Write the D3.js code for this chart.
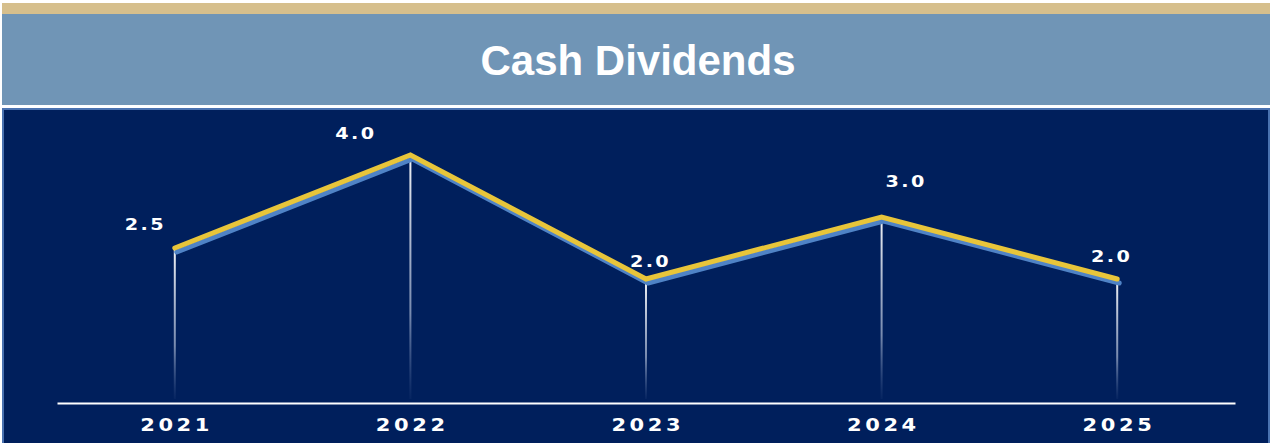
<!DOCTYPE html>
<html>
<head>
<meta charset="utf-8">
<script src="https://cdn.jsdelivr.net/npm/d3@7"></script>
<style>
  body { margin: 0; background: #fff; }
  svg { display: block; }
</style>
</head>
<body>
<div id="chart"></div>
<script>
// data
const years = ["2021", "2022", "2023", "2024", "2025"];
const dividends = [2.5, 4.0, 2.0, 3.0, 2.0];
const valueLabels = ["2.5", "4.0", "2.0", "3.0", "2.0"];
// label nudges (px) relative to each point, as laid out in the source
const labelDx = [-31, -56, 3, 23, -7];
const labelDy = [-24, -22, -18, -36, -23];

const width = 1272;
const height = 443;

const svg = d3.select("#chart").append("svg")
    .attr("width", width)
    .attr("height", height);

// header bands
svg.append("rect").attr("x", 2).attr("y", 3).attr("width", 1268).attr("height", 11).attr("fill", "#d6bf8c");
svg.append("rect").attr("x", 2).attr("y", 14).attr("width", 1268).attr("height", 91).attr("fill", "#7095b6");
svg.append("text")
    .attr("x", 638).attr("y", 75)
    .attr("text-anchor", "middle")
    .style("font-family", "'Liberation Sans', Arial, sans-serif")
    .style("font-weight", "bold")
    .style("font-size", "42px")
    .attr("fill", "#fff")
    .text("Cash Dividends");

// navy panel with lighter edge
svg.append("rect").attr("x", 2).attr("y", 108).attr("width", 1268).attr("height", 335).attr("fill", "#4a72b0");
svg.append("rect").attr("x", 4).attr("y", 110).attr("width", 1264).attr("height", 333).attr("fill", "#001f5c");

const defs = svg.append("defs");
const grad = defs.append("linearGradient")
    .attr("id", "dropGrad")
    .attr("x1", 0).attr("y1", 0).attr("x2", 0).attr("y2", 1);
grad.append("stop").attr("offset", "0%").attr("stop-color", "#ffffff").attr("stop-opacity", 0.95);
grad.append("stop").attr("offset", "65%").attr("stop-color", "#c8d2e6").attr("stop-opacity", 0.6);
grad.append("stop").attr("offset", "100%").attr("stop-color", "#7f93bd").attr("stop-opacity", 0.05);

const x = d3.scaleBand()
    .domain(years)
    .range([57, 1235]);

const y = d3.scaleLinear()
    .domain([0, 4])
    .range([403, 155]);

const pts = years.map((yr, i) => ({ year: yr, value: dividends[i], label: valueLabels[i], dx: labelDx[i], dy: labelDy[i] }));
const cx = d => x(d.year) + x.bandwidth() / 2;

// drop lines
svg.append("g")
  .selectAll("rect")
  .data(pts)
  .join("rect")
    .attr("x", d => cx(d) - 1)
    .attr("y", d => y(d.value))
    .attr("width", 2)
    .attr("height", d => y(0) - y(d.value) - 4)
    .attr("fill", "url(#dropGrad)");

// axis
const xAxis = svg.append("g")
    .attr("transform", `translate(0,${y(0)})`)
    .call(d3.axisBottom(x).tickSize(0));
xAxis.select(".domain").attr("stroke", "#fff").attr("stroke-width", 2);
// the source text is stretched wide, so scale it horizontally
xAxis.selectAll("text")
    .attr("fill", "#fff")
    .attr("y", 28)
    .attr("dy", 0)
    .attr("x", 1.5)
    .attr("transform", "scale(1.2,1)")
    .style("font-family", "'DejaVu Sans', Verdana, sans-serif")
    .style("font-weight", "bold")
    .style("font-size", "17.5px")
    .style("letter-spacing", "3px");

const line = d3.line()
    .x(cx)
    .y(d => y(d.value));

// shadow line
svg.append("path")
    .datum(pts)
    .attr("transform", "translate(2,4)")
    .attr("d", line)
    .attr("fill", "none")
    .attr("stroke", "#4f83c6")
    .attr("stroke-width", 5)
    .attr("stroke-linejoin", "round")
    .attr("stroke-linecap", "round");

svg.append("path")
    .datum(pts)
    .attr("d", line)
    .attr("fill", "none")
    .attr("stroke", "#e8c53a")
    .attr("stroke-width", 5)
    .attr("stroke-linejoin", "miter")
    .attr("stroke-linecap", "round");

// value labels
svg.append("g")
  .selectAll("text")
  .data(pts)
  .join("text")
    .attr("transform", d => `translate(${cx(d) + d.dx + 1.5},${y(d.value) + d.dy + 6}) scale(1.2,1)`)
    .attr("text-anchor", "middle")
    .attr("fill", "#fff")
    .style("font-family", "'DejaVu Sans', Verdana, sans-serif")
    .style("font-weight", "bold")
    .style("font-size", "16px")
    .style("letter-spacing", "2px")
    .text(d => d.label);
</script>
</body>
</html>
